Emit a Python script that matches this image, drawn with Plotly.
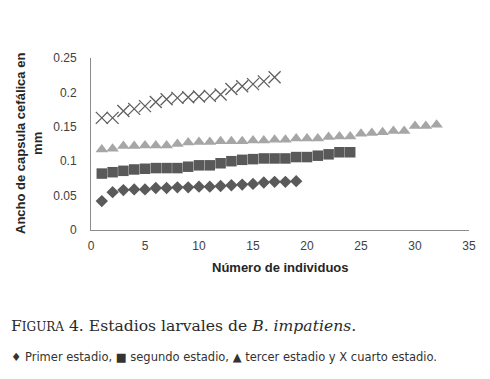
import plotly.graph_objects as go

# Data
x1 = list(range(1, 20))
primer = [0.042, 0.055, 0.058, 0.059, 0.059, 0.061, 0.061, 0.062, 0.062, 0.063,
          0.063, 0.064, 0.065, 0.066, 0.067, 0.069, 0.070, 0.070, 0.071]
x2 = list(range(1, 25))
segundo = [0.082, 0.084, 0.086, 0.088, 0.089, 0.090, 0.090, 0.090, 0.092, 0.094,
           0.094, 0.097, 0.100, 0.102, 0.103, 0.104, 0.104, 0.104, 0.106, 0.106,
           0.108, 0.110, 0.113, 0.113]
x3 = list(range(1, 33))
tercer = [0.117, 0.118, 0.122, 0.122, 0.123, 0.123, 0.123, 0.125, 0.127, 0.128,
          0.128, 0.129, 0.129, 0.129, 0.130, 0.130, 0.131, 0.131, 0.133, 0.133,
          0.133, 0.135, 0.136, 0.136, 0.140, 0.141, 0.142, 0.144, 0.144, 0.151,
          0.151, 0.153]
x4 = list(range(1, 18))
cuarto = [0.163, 0.163, 0.173, 0.176, 0.180, 0.186, 0.190, 0.192, 0.193, 0.194,
          0.195, 0.197, 0.205, 0.209, 0.212, 0.216, 0.222]

x_ticks = [0, 5, 10, 15, 20, 25, 30, 35]
y_ticks = [0, 0.05, 0.1, 0.15, 0.2, 0.25]
y_tick_labels = ["0", "0.05", "0.1", "0.15", "0.2", "0.25"]

fig = go.Figure()
fig.add_trace(go.Scatter(x=x1, y=primer, mode="markers",
                         marker=dict(symbol="diamond", size=9.5, color="#5a5a5a")))
fig.add_trace(go.Scatter(x=x2, y=segundo, mode="markers",
                         marker=dict(symbol="square", size=10.5, color="#595959")))
fig.add_trace(go.Scatter(x=x3, y=tercer, mode="markers",
                         marker=dict(symbol="triangle-up", size=11, color="#a6a6a6")))
fig.add_trace(go.Scatter(x=x4, y=cuarto, mode="markers",
                         marker=dict(symbol="x-thin-open", size=12, color="#5f5f5f",
                                     line=dict(color="#5f5f5f", width=1.3))))

axis_font = dict(family="Liberation Sans, Arial, sans-serif", size=12, color="#404040")

fig.update_layout(
    width=490, height=379,
    margin=dict(l=91, r=21, t=58, b=149, autoexpand=False),
    paper_bgcolor="white", plot_bgcolor="white",
    showlegend=False,
    xaxis=dict(range=[0, 35], tickvals=x_ticks, showgrid=False, zeroline=False,
               showline=True, linecolor="#8c8c8c", linewidth=1, automargin=False,
               ticks="", tickfont=axis_font, ticklabelstandoff=5),
    yaxis=dict(range=[0, 0.25], tickvals=y_ticks, ticktext=y_tick_labels,
               showgrid=False, zeroline=False, showline=True, automargin=False,
               linecolor="#8c8c8c", linewidth=1, ticks="", tickfont=axis_font,
               ticklabelstandoff=11),
)

fig.add_annotation(
    text="<b>Ancho de capsula cefálica en<br>mm</b>",
    xref="paper", yref="paper", x=(29 - 91) / 378, y=0.5,
    textangle=-90, showarrow=False, xanchor="center", yanchor="middle",
    font=dict(family="Liberation Sans, Arial, sans-serif", size=13, color="#262626"),
)
fig.add_annotation(
    text="<b>Número de individuos</b>",
    xref="paper", yref="paper", x=0.5, y=-(267 - 230) / 172,
    showarrow=False, xanchor="center", yanchor="middle",
    font=dict(family="Liberation Sans, Arial, sans-serif", size=13, color="#262626"),
)
fig.add_annotation(
    text="F<span style='font-size:12px'>IGURA</span> 4. Estadios larvales de <i>B. impatiens</i>.",
    xref="paper", yref="paper", x=(9 - 91) / 378, y=-(326 - 230) / 172,
    showarrow=False, xanchor="left", yanchor="middle",
    font=dict(family="DejaVu Serif, Liberation Serif, serif", size=15.6, color="#2a2a2a"),
)
fig.add_annotation(
    text="♦ Primer estadio, ■ segundo estadio, ▲ tercer estadio y X cuarto estadio.",
    xref="paper", yref="paper", x=(9 - 91) / 378, y=-(357 - 230) / 172,
    showarrow=False, xanchor="left", yanchor="middle",
    font=dict(family="DejaVu Sans, sans-serif", size=11.5, color="#333333"),
)

fig.write_html("out.html", config={"displayModeBar": False},
               post_script="document.body.style.margin='0';document.body.style.overflow='hidden';")
